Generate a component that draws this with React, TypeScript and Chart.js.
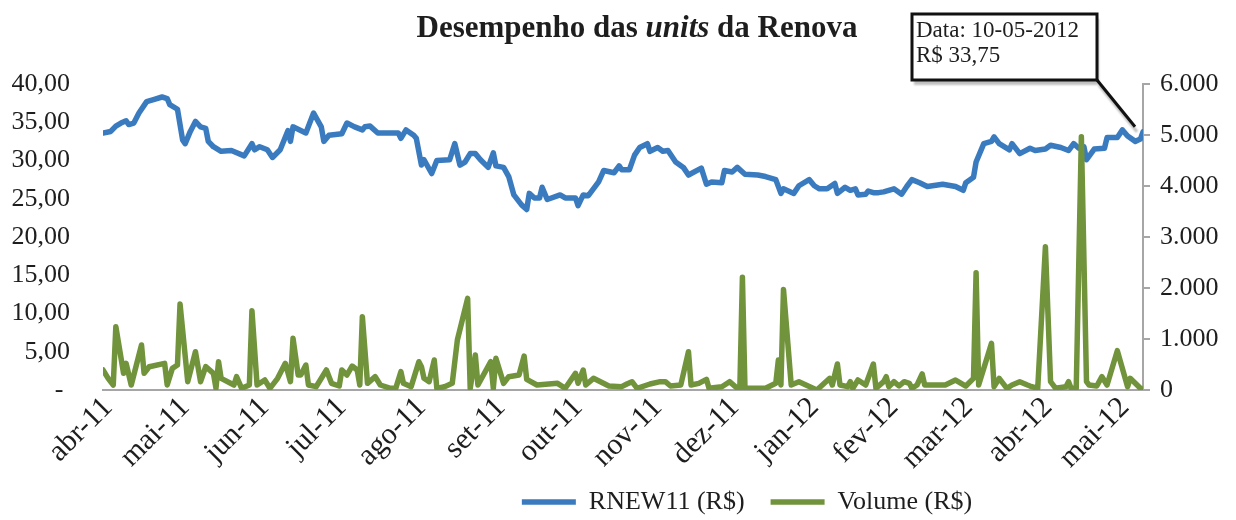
import React, { useEffect, useRef } from 'react';
import { Chart, registerables } from 'chart.js';

Chart.register(...registerables);

// ---- Data (days counted from 01-04-2011) ----
const monthStarts = [0, 30, 61, 91, 122, 153, 183, 214, 244, 275, 306, 335, 366, 396];
const monthLabels = ['abr-11', 'mai-11', 'jun-11', 'jul-11', 'ago-11', 'set-11', 'out-11', 'nov-11', 'dez-11', 'jan-12', 'fev-12', 'mar-12', 'abr-12', 'mai-12'];

const priceDays = [
  0, 3, 5, 7, 9, 10, 12, 14, 17, 20, 23, 25, 26, 29, 31, 32, 34, 36, 38, 40, 41, 43, 46, 50, 55, 58, 59, 61, 64, 66,
  69, 72, 73, 74, 79, 82, 85, 86, 88, 93, 95, 98, 101, 102, 104, 107, 115, 116, 118, 121, 122, 124, 125, 128, 130, 135, 137, 139, 141, 143,
  145, 147, 150, 152, 153, 156, 158, 160, 163, 165, 166, 168, 170, 171, 173, 178, 180, 184, 185, 187, 189, 193, 195, 199, 201, 202, 205, 207, 209, 212,
  213, 216, 218, 220, 223, 226, 228, 233, 235, 237, 241, 242, 245, 247, 250, 255, 258, 262, 264, 265, 269, 271, 275, 277, 279, 282, 285, 286, 289, 291,
  293, 294, 297, 298, 300, 302, 304, 308, 311, 313, 315, 318, 321, 327, 332, 335, 336, 339, 340, 343, 346, 347, 349, 353, 354, 357, 361, 363, 367, 369,
  373, 376, 378, 380, 382, 383, 386, 390, 391, 395, 397, 399, 402, 404, 405,
];
const priceValues = [
  33.6, 33.8, 34.5, 34.9, 35.2, 34.7, 34.9, 36.2, 37.7, 38.0, 38.3, 38.1, 37.3, 36.7, 32.7, 32.2, 33.8, 35.1, 34.4, 34.2, 32.5, 31.8, 31.2, 31.3, 30.6, 32.2, 31.4, 31.8, 31.4, 30.4,
  31.4, 33.9, 32.5, 34.4, 33.6, 36.2, 34.4, 32.5, 33.3, 33.5, 34.9, 34.4, 34.0, 34.4, 34.5, 33.6, 33.6, 32.9, 34.0, 33.3, 32.9, 29.4, 30.1, 28.3, 30.0, 30.1, 32.2, 29.4, 29.8, 30.9,
  30.9, 30.1, 29.1, 31.0, 29.3, 29.1, 27.9, 25.5, 24.2, 23.6, 25.7, 25.1, 25.1, 26.5, 24.9, 25.5, 25.1, 25.1, 24.1, 25.5, 25.4, 27.2, 28.7, 28.4, 29.3, 28.8, 28.8, 30.7, 31.7, 32.2,
  31.2, 31.7, 31.2, 31.3, 29.8, 29.1, 28.1, 29.0, 26.9, 27.2, 27.1, 28.7, 28.5, 29.1, 28.2, 28.1, 27.9, 27.5, 25.7, 26.3, 25.7, 26.7, 27.5, 26.7, 26.3, 26.3, 27.0, 25.7, 26.5, 26.1,
  26.3, 25.5, 25.6, 26.0, 25.8, 25.8, 25.9, 26.3, 25.6, 26.6, 27.5, 27.1, 26.6, 26.9, 26.6, 26.1, 27.1, 27.8, 29.8, 32.2, 32.5, 33.1, 32.2, 31.4, 32.2, 30.9, 31.6, 31.3, 31.5, 32.0,
  31.7, 31.3, 32.2, 31.6, 31.8, 30.1, 31.5, 31.6, 33.0, 33.0, 34.0, 33.2, 32.5, 32.8, 33.75,
];

const volumeDays = [
  0, 2, 4, 5, 8, 9, 11, 15, 16, 18, 24, 25, 27, 29, 30, 33, 36, 38, 40, 43, 44, 45, 46, 51, 52, 54, 57, 58, 60, 63,
  65, 68, 71, 73, 74, 76, 77, 79, 80, 83, 87, 89, 92, 93, 95, 97, 99, 100, 101, 103, 106, 108, 112, 114, 116, 117, 120, 123, 124, 125,
  127, 129, 130, 133, 136, 138, 142, 143, 145, 146, 151, 152, 153, 156, 158, 162, 164, 165, 169, 177, 180, 184, 185, 187, 188, 191, 197, 202, 204, 206,
  208, 213, 217, 219, 221, 225, 228, 229, 232, 235, 236, 241, 244, 247, 248, 249, 250, 258, 262, 263, 264, 265, 268, 271, 278, 283, 284, 286, 287, 290,
  291, 292, 294, 297, 300, 301, 304, 305, 306, 308, 310, 312, 314, 315, 317, 319, 320, 328, 332, 336, 339, 340, 341, 346, 347, 349, 352, 354, 357, 360,
  361, 364, 367, 369, 371, 375, 376, 377, 379, 381, 383, 384, 387, 389, 391, 395, 399, 400, 404, 405,
];
const volumeValues = [
  392, 229, 98, 1241, 327, 523, 98, 882, 327, 457, 523, 98, 425, 490, 1686, 163, 751, 163, 457, 327, 33, 555, 229, 98, 261, 33, 98, 1554, 98, 196,
  33, 229, 523, 163, 1013, 294, 294, 490, 98, 65, 392, 131, 78, 392, 294, 470, 392, 98, 1437, 131, 261, 98, 33, 33, 359, 131, 65, 555, 457, 229,
  163, 588, 33, 65, 131, 980, 1797, 33, 686, 98, 555, 33, 621, 131, 261, 294, 666, 209, 98, 131, 33, 327, 131, 392, 98, 229, 78, 65, 118, 163,
  33, 118, 163, 163, 78, 98, 751, 98, 131, 209, 33, 65, 163, 33, 33, 2209, 33, 33, 131, 588, 98, 1973, 98, 163, 0, 229, 98, 510, 98, 65,
  163, 33, 196, 98, 510, 33, 163, 261, 65, 163, 78, 163, 131, 33, 98, 314, 98, 98, 196, 78, 229, 2300, 98, 915, 65, 229, 33, 98, 163, 98,
  78, 33, 2809, 163, 33, 65, 163, 33, 33, 4965, 163, 98, 78, 261, 98, 771, 65, 229, 33, 20,
];

const calloutDate = '10-05-2012';

// ---- Styles ----
const FONT = "'Liberation Serif', 'Times New Roman', serif";
const TEXT = '#1e1e1e';
const AXIS = '#a6a6a6';
const BLUE = '#3a7bbf';
const GREEN = '#71933b';

const fmtPrice = (v: number) => (v === 0 ? '- ' : v.toFixed(2).replace('.', ','));
const fmtVolume = (v: number) => (v === 0 ? '0' : `${Math.round(v / 1000)}.000`);

const layoutTweakPlugin = {
  id: 'layoutTweak',
  afterLayout(chart: any) {
    const lg = chart.legend;
    if (lg) {
      const dx = 129;
      const dy = 5;
      lg.left += dx;
      lg.right += dx;
      lg.top += dy;
      lg.bottom += dy;
    }
    // let the rotated month labels extend below the axis box without being clipped
    const xs = chart.scales.x;
    if (xs) xs.bottom = chart.height;
  },
};

const overlayPlugin = {
  id: 'overlay',
  afterDraw(chart: any) {
    const ctx = chart.ctx as CanvasRenderingContext2D;
    ctx.save();
    // Title with italic "units"
    const size = 31;
    const parts = [
      { t: 'Desempenho das ', f: `bold ${size}px ${FONT}` },
      { t: 'units', f: `italic bold ${size}px ${FONT}` },
      { t: ' da Renova', f: `bold ${size}px ${FONT}` },
    ];
    let total = 0;
    const widths = parts.map((p) => {
      ctx.font = p.f;
      const w = ctx.measureText(p.t).width;
      total += w;
      return w;
    });
    let x = 637 - total / 2;
    ctx.fillStyle = TEXT;
    ctx.textBaseline = 'alphabetic';
    ctx.textAlign = 'left';
    parts.forEach((p, i) => {
      ctx.font = p.f;
      ctx.fillText(p.t, x, 37);
      x += widths[i];
    });

    // Callout for last price point
    const xs = chart.scales.x;
    const ys = chart.scales.y;
    const lastIdx = priceDays.length - 1;
    const px = xs.getPixelForValue(priceDays[lastIdx]);
    const py = ys.getPixelForValue(priceValues[lastIdx]);
    const bx = 912, by = 14, bw = 185, bh = 66;
    ctx.shadowColor = 'rgba(0,0,0,0.25)';
    ctx.shadowOffsetX = 2;
    ctx.shadowOffsetY = 5;
    ctx.shadowBlur = 2;
    ctx.strokeStyle = '#111';
    ctx.lineWidth = 3;
    ctx.beginPath();
    ctx.moveTo(bx + bw, by + bh);
    ctx.lineTo(px - 8, py - 5);
    ctx.stroke();
    ctx.fillStyle = '#ffffff';
    ctx.fillRect(bx, by, bw, bh);
    ctx.shadowColor = 'transparent';
    ctx.strokeRect(bx, by, bw, bh);
    ctx.fillStyle = TEXT;
    ctx.font = `23px ${FONT}`;
    ctx.fillText(`Data: ${calloutDate}`, bx + 4, 37);
    ctx.fillText(`R$ ${priceValues[lastIdx].toFixed(2).replace('.', ',')}`, bx + 4, 62);
    ctx.restore();
  },
};

export default function App() {
  const ref = useRef<HTMLCanvasElement | null>(null);

  useEffect(() => {
    if (!ref.current) return;
    const tickFont = { family: FONT, size: 26 };
    const chart = new Chart(ref.current, {
      type: 'line',
      data: {
        datasets: [
          {
            label: 'RNEW11 (R$)',
            data: priceDays.map((d, i) => ({ x: d, y: priceValues[i] })),
            borderColor: BLUE,
            backgroundColor: BLUE,
            borderWidth: 5.5,
            pointRadius: 0,
            borderCapStyle: 'round',
            borderJoinStyle: 'round',
            yAxisID: 'y',
            order: 1,
          },
          {
            label: 'Volume (R$)',
            data: volumeDays.map((d, i) => ({ x: d, y: volumeValues[i] })),
            borderColor: GREEN,
            backgroundColor: GREEN,
            borderWidth: 5.5,
            pointRadius: 0,
            borderCapStyle: 'round',
            borderJoinStyle: 'round',
            yAxisID: 'y1',
            order: 0,
          },
        ],
      },
      options: {
        responsive: false,
        animation: false,
        events: [],
        layout: { padding: { top: 84, left: 0, right: 0, bottom: 0 } },
        plugins: {
          title: { display: false },
          tooltip: { enabled: false },
          legend: {
            position: 'bottom',
            labels: {
              font: { family: FONT, size: 26 },
              color: TEXT,
              usePointStyle: true,
              pointStyle: 'line',
              pointStyleWidth: 54,
              padding: 26,
              sort: (a: any, b: any) => a.datasetIndex - b.datasetIndex,
            },
          },
        },
        scales: {
          x: {
            type: 'linear',
            min: 0,
            max: monthStarts[monthStarts.length - 1] + 9,
            afterBuildTicks: (s: any) => {
              s.ticks = monthStarts.map((v) => ({ value: v }));
            },
            afterFit: (s: any) => {
              s.height = 130 - (26 + 26 + 10);
            },
            ticks: {
              autoSkip: false,
              maxRotation: 45,
              minRotation: 45,
              padding: 0,
              labelOffset: 5,
              font: { family: FONT, size: 30 },
              color: TEXT,
              callback: (v: any) => {
                const i = monthStarts.indexOf(Number(v));
                return i >= 0 ? monthLabels[i] : '';
              },
            },
            grid: { display: false, drawTicks: false },
            border: { display: true, color: AXIS, width: 2 },
          },
          y: {
            position: 'left',
            min: 0,
            max: 40,
            afterFit: (s: any) => {
              s.width = 103;
            },
            ticks: { stepSize: 5, padding: 33, font: tickFont, color: TEXT, callback: (v: any) => fmtPrice(Number(v)) },
            grid: { display: false, drawTicks: false },
            border: { display: false },
          },
          y1: {
            position: 'right',
            min: 0,
            max: 6000,
            afterFit: (s: any) => {
              s.width = 93;
            },
            ticks: { stepSize: 1000, padding: 10, font: tickFont, color: TEXT, callback: (v: any) => fmtVolume(Number(v)) },
            grid: { display: true, drawOnChartArea: false, drawTicks: true, tickLength: 7, color: AXIS, lineWidth: 2 },
            border: { display: true, color: AXIS, width: 2 },
          },
        },
      },
      plugins: [layoutTweakPlugin, overlayPlugin],
    } as any);
    return () => chart.destroy();
  }, []);

  return (
    <div style={{ position: 'absolute', left: 0, top: 0, width: 1236, height: 520, background: '#fff' }}>
      <canvas ref={ref} width={1236} height={520} style={{ display: 'block' }} />
    </div>
  );
}
